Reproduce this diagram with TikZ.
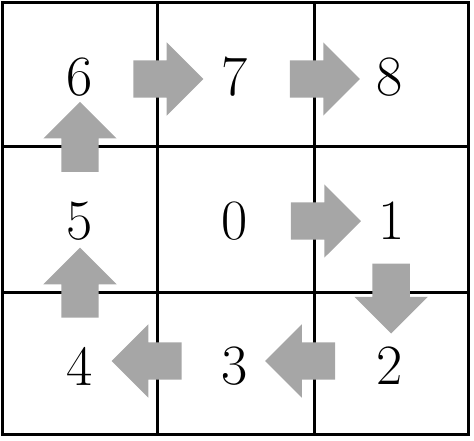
\documentclass[tikz,border=0pt]{standalone}
\usetikzlibrary{shapes.arrows,calc}
\definecolor{arrowgray}{HTML}{A6A6A6}
\tikzset{
  digit/.style={inner sep=0pt,font=\fontsize{57}{60}\selectfont},
  blockarrow/.style={single arrow,fill=arrowgray,draw=none,inner sep=0pt,
    text height=37pt,text depth=0pt,minimum height=70pt,
    single arrow head extend=18pt,single arrow tip angle=90},
  gridline/.style={line width=3pt}
}
\begin{document}
\begin{tikzpicture}[x=1pt,y=-1pt]
\useasboundingbox (0,0) rectangle (474,440);
% 3x3 board
\draw[gridline] (2.5,2.5) rectangle (468.5,434.5);
\draw[gridline] (157,2.5) -- (157,434.5);
\draw[gridline] (314,2.5) -- (314,434.5);
\draw[gridline] (2.5,146) -- (468.5,146);
\draw[gridline] (2.5,292) -- (468.5,292);

% cell numbers
\foreach \d/\x/\y in {6/80/77,7/235/77,8/390/77,5/80/221,0/235/221,1/392/221,4/80/366,3/235/366,2/390/366} {
    \node[digit] (n\d) at (\x,\y) {\d};
}

% path around the board
\foreach \a/\b/\f/\r/\s in {0/1/0.52/0/0,1/2/0.47/-90/0,2/3/0.52/180/-5,3/4/0.51/180/-5,4/5/0.51/90/0,5/6/0.52/90/0,6/7/0.51/0/-2,7/8/0.52/0/-2} {
    \node[blockarrow,rotate=\r,yshift=\s pt] (a\a\b) at ($(n\a)!\f!(n\b)$) {};
}
\end{tikzpicture}
\end{document}
